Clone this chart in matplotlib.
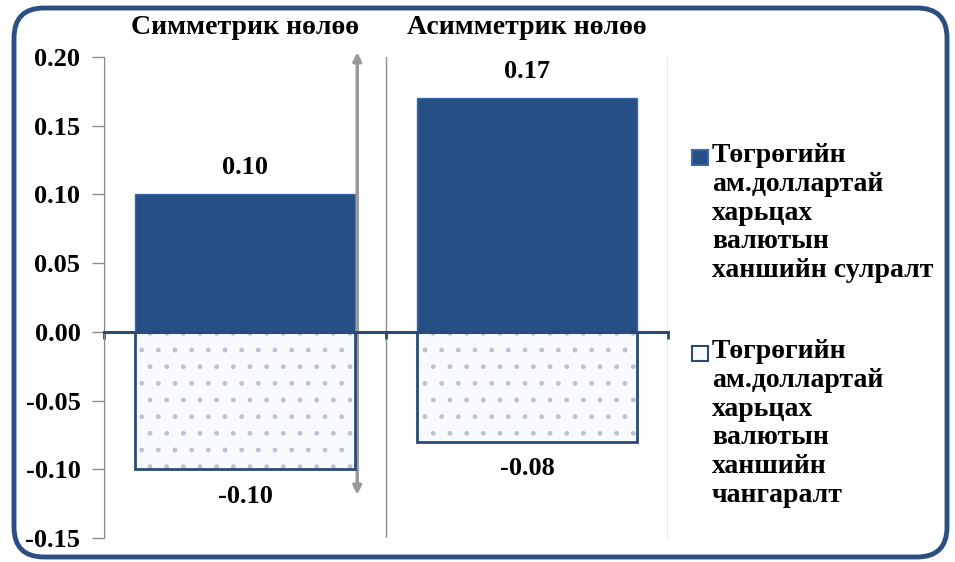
import matplotlib.pyplot as plt
from matplotlib.patches import FancyBboxPatch, Rectangle

categories = ["Симметрик нөлөө", "Асимметрик нөлөө"]
depreciation = [0.10, 0.17]
appreciation = [-0.10, -0.08]
series_names = ["Төгрөгийн\nам.доллартай\nхарьцах\nвалютын\nханшийн сулралт",
                "Төгрөгийн\nам.доллартай\nхарьцах\nвалютын\nханшийн\nчангаралт"]
yticks = [-0.15, -0.10, -0.05, 0.00, 0.05, 0.10, 0.15, 0.20]

plt.rcParams['font.family'] = ['Liberation Serif', 'DejaVu Serif']
plt.rcParams['font.weight'] = 'bold'
plt.rcParams['hatch.color'] = '#b9c3d4'
plt.rcParams['hatch.linewidth'] = 1.0

dark = '#264f86'
edge = '#2c4a74'
fs = 19

fig = plt.figure(figsize=(9.55, 5.62), dpi=100)
ax = fig.add_axes([104/955, 24/562, 564/955, 481/562])

x = list(range(len(categories)))
ax.bar(x, depreciation, width=0.78, color=dark, edgecolor='#3a6aa5', linewidth=1, zorder=3)
ax.bar(x, appreciation, width=0.78, color='#f8fafd', hatch='.', zorder=3)
ax.bar(x, appreciation, width=0.78, fill=False, edgecolor=edge, linewidth=2, zorder=4)

for xi, v in zip(x, depreciation):
    ax.annotate(f"{v:.2f}", (xi, v), xytext=(0, 11), textcoords='offset points',
                ha='center', va='bottom', fontsize=fs, fontweight='bold')
for xi, v in zip(x, appreciation):
    ax.annotate(f"{v:.2f}", (xi, v), xytext=(0, -11), textcoords='offset points',
                ha='center', va='top', fontsize=fs, fontweight='bold')

ax.set_xlim(-0.5, 1.5)
ax.set_ylim(-0.15, 0.20)
ax.set_yticks(yticks)
ax.set_yticklabels([f"{t:.2f}" for t in yticks])
ax.tick_params(axis='y', colors='#8c8c8c', length=9, width=1, labelcolor='black',
               labelsize=fs, pad=8)

# category labels on top, small ticks at boundaries on the zero line
ax.set_xticks(x)
ax.set_xticklabels(categories)
ax.tick_params(axis='x', which='major', bottom=False, top=False,
               labelbottom=False, labeltop=True, labelsize=fs + 1, pad=9)
ax.set_xticks([-0.5, 0.5, 1.5], minor=True)
ax.tick_params(axis='x', which='minor', bottom=True, direction='out',
               length=5, width=2, color=edge)
ax.grid(True, which='minor', axis='x', color='#8c8c8c', linewidth=1)

ax.spines['bottom'].set_position(('data', 0))
ax.spines['bottom'].set_color(edge)
ax.spines['bottom'].set_linewidth(2.2)
ax.spines['bottom'].set_zorder(5)
ax.spines['left'].set_color('#8c8c8c')
ax.spines['top'].set_visible(False)
ax.spines['right'].set_visible(False)

# gray double arrow beside the first category
ax.annotate('', xy=(0.449, 0.09), xytext=(0.449, 1.01), xycoords='axes fraction',
            arrowprops=dict(arrowstyle='<|-|>', color='#9a9a9a', lw=2.5,
                            mutation_scale=12, shrinkA=0, shrinkB=0),
            annotation_clip=False)

# legend drawn by hand so the square sits beside the first line
legend_colors = [(dark, '#3a6aa5'), ('#f8fafd', edge)]
legend_tops = [4.19, 2.23]
for (fc, ec), name, top in zip(legend_colors, series_names, legend_tops):
    fig.patches.append(Rectangle((6.92, top - 0.22), 0.16, 0.15, facecolor=fc,
                                 edgecolor=ec, linewidth=1.5,
                                 transform=fig.dpi_scale_trans, figure=fig))
    fig.text(7.12, top, name, transform=fig.dpi_scale_trans, ha='left', va='top',
             fontsize=fs + 1, fontweight='bold', linespacing=1.2)

frame = FancyBboxPatch((0.14, 0.05), 9.33, 5.49, boxstyle='round,pad=0,rounding_size=0.3',
                       transform=fig.dpi_scale_trans, facecolor='none',
                       edgecolor='#2b4f80', linewidth=3.5, figure=fig)
fig.patches.append(frame)

fig.savefig('out.png', dpi=100)
